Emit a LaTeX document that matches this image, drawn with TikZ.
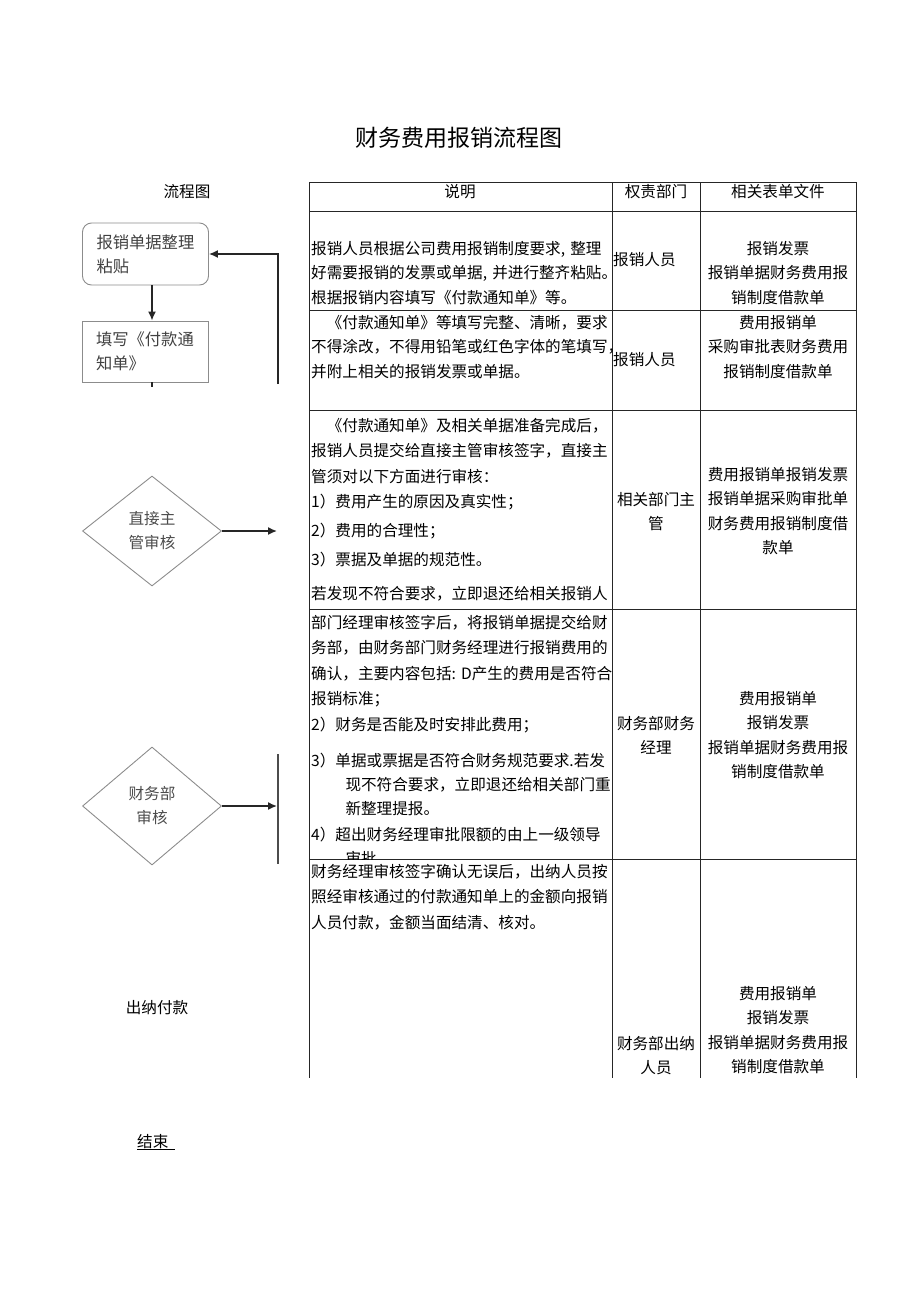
\documentclass[tikz,border=0pt]{standalone}
\usepackage{fontspec}
\usepackage{tikz}
\usetikzlibrary{arrows.meta,shapes.geometric}
\newfontfamily\cjk{Noto Sans CJK SC}

\begin{document}
\begin{tikzpicture}[x=1pt,y=-1pt]
\tikzstyle{every node}+=[inner sep=0pt]
\tikzstyle{txt}=[font=\cjk\fontsize{15.6}{24.6}\selectfont]
\tikzstyle{desc}=[txt,anchor=base west,align=left,text width=320pt]
\tikzstyle{dept}=[txt,anchor=base,align=center,text width=88pt]
\tikzstyle{docs}=[txt,anchor=base,align=center,text width=156pt]
\tikzstyle{grid}=[black!85,line width=0.9pt]
\tikzstyle{stepbox}=[draw=black!45,line width=0.9pt,text=black!75,font=\cjk\fontsize{16.3}{24}\selectfont,align=left,text width=98pt,inner xsep=14pt,minimum height=62pt]
\tikzstyle{check}=[diamond,draw=black!45,line width=0.9pt,text=black!70,font=\cjk\fontsize{15.6}{24}\selectfont,align=center,minimum width=139pt,minimum height=110pt]
\tikzstyle{link}=[black!85,line width=1.5pt,-{Latex[length=9pt,width=8pt]}]
\useasboundingbox (0,0) rectangle (920,1301);

\node[font=\cjk\fontsize{23}{23}\selectfont,anchor=base] (title) at (459,146) {财务费用报销流程图};
\node[txt,anchor=base] (flowlbl) at (187,197) {流程图};

% flow chart
\coordinate (axis) at (152,0);
\node[stepbox,rounded corners=9pt] (sort) at (145.5,254) {报销单据整理\\粘贴};
\node[stepbox,minimum height=61pt] (fill) at (145,351.5) {填写《付款通\\知单》};
\draw[link] (sort.south -| axis) -- (fill.north -| axis);
\draw[black!85,line width=1.2pt] (fill.south -| axis) -- ++(0,5);
\coordinate (back1) at (278,384);
\draw[link] (back1) |- (sort.east);

\node[check] (boss) at (152,531) {直接主\\管审核};
\coordinate (boss2) at (277,531);
\draw[link] (boss.east) -- (boss2);

\node[check,minimum height=118pt] (fin) at (152,806) {财务部\\审核};
\coordinate (fin2) at (277,806);
\draw[link] (fin.east) -- (fin2);
\coordinate (back2a) at (278,754);
\coordinate (back2b) at (278,864);
\draw[black!70,line width=1.5pt] (back2a) -- (back2b);

\node[txt,anchor=base] (pay) at (157,1013) {出纳付款};
\node[txt,anchor=base west] (finish) at (137,1147) {\underline{结束\hspace*{7pt}}};

% table
\foreach \y in {182,211,310,410,609,859}
  \draw[grid] (309,\y) -- (856,\y);
\foreach \x in {309,612,700,856}
  \draw[grid] (\x,182) -- (\x,1078);

\node[txt,anchor=base] (h1) at (460,197) {说明};
\node[txt,anchor=base] (h2) at (656,197) {权责部门};
\node[txt,anchor=base] (h3) at (778,197) {相关表单文件};

% row 1
\node[desc] (r1a) at (311,254) {报销人员根据公司费用报销制度要求,~整理\\好需要报销的发票或单据,~并进行整齐粘贴。\\根据报销内容填写《付款通知单》等。};
\node[txt,anchor=base west] (r1b) at (613,265) {报销人员};
\node[docs] (r1c) at (778,254) {报销发票\\报销单据财务费用报\\销制度借款单};

% row 2
\node[desc] (r2a) at (311,328) {\hspace*{1em}《付款通知单》等填写完整、清晰，要求\\不得涂改，不得用铅笔或红色字体的笔填写，\\并附上相关的报销发票或单据。};
\node[txt,anchor=base west] (r2b) at (613,365) {报销人员};
\node[docs] (r2c) at (778,328) {费用报销单\\采购审批表财务费用\\报销制度借款单};

% row 3
\node[desc,font=\cjk\fontsize{15.6}{25.5}\selectfont] (r3a) at (311,431) {\hspace*{1em}《付款通知单》及相关单据准备完成后，\\报销人员提交给直接主管审核签字，直接主\\管须对以下方面进行审核：\\1）费用产生的原因及真实性；\\[3.5pt]2）费用的合理性；\\[3.5pt]3）票据及单据的规范性。\\[8.5pt]若发现不符合要求，立即退还给相关报销人};
\node[dept] (r3b) at (656,505) {相关部门主\\管};
\node[docs] (r3c) at (778,480) {费用报销单报销发票\\报销单据采购审批单\\财务费用报销制度借\\款单};

% row 4
\begin{scope}
\clip (309,609) rectangle (612,859);
\node[desc,font=\cjk\fontsize{15.6}{25.5}\selectfont] (r4a) at (311,628) {部门经理审核签字后，将报销单据提交给财\\务部，由财务部门财务经理进行报销费用的\\确认，主要内容包括:~D产生的费用是否符合\\报销标准；\\2）财务是否能及时安排此费用；\\[10.5pt]3）单据或票据是否符合财务规范要求.若发\\[-1.5pt]\hspace*{2.2em}现不符合要求，立即退还给相关部门重\\[-1.5pt]\hspace*{2.2em}新整理提报。\\[0.5pt]4）超出财务经理审批限额的由上一级领导\\[-1.5pt]\hspace*{2.2em}审批};
\end{scope}
\node[dept] (r4b) at (656,729) {财务部财务\\经理};
\node[docs] (r4c) at (778,704) {费用报销单\\报销发票\\报销单据财务费用报\\销制度借款单};

% row 5
\node[desc,font=\cjk\fontsize{15.6}{25.5}\selectfont] (r5a) at (311,877) {财务经理审核签字确认无误后，出纳人员按\\照经审核通过的付款通知单上的金额向报销\\人员付款，金额当面结清、核对。};
\node[dept] (r5b) at (656,1049) {财务部出纳\\人员};
\node[docs] (r5c) at (778,999) {费用报销单\\报销发票\\报销单据财务费用报\\销制度借款单};

\end{tikzpicture}
\end{document}
